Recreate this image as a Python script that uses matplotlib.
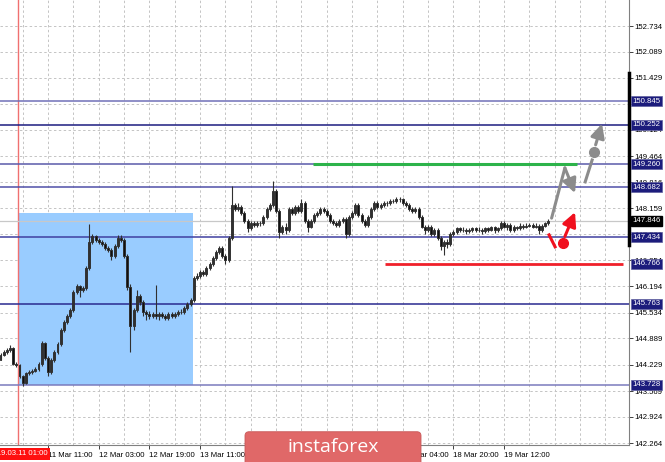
import matplotlib
matplotlib.use('Agg')
import matplotlib.pyplot as plt
from matplotlib.patches import FancyBboxPatch, Rectangle
import matplotlib.transforms as mtransforms

plt.rcParams['font.family'] = ['Liberation Sans', 'DejaVu Sans']

# hourly candles, bar index = position on the chart
first_open = 144.36
closes = [
    144.48, 144.55, 144.60, 144.66, 144.26, 144.22, 143.95, 143.78, 144.02, 144.05,
    144.08, 144.12, 144.25, 144.78, 144.40, 144.05, 144.35, 144.55, 144.75, 145.10,
    145.30, 145.45, 145.60, 146.05, 146.20, 146.10, 146.15, 146.65, 147.30, 147.45,
    147.35, 147.30, 147.25, 147.15, 147.10, 146.95, 147.20, 147.40, 147.35, 146.95,
    146.18, 145.20, 145.60, 145.95, 145.80, 145.55, 145.50, 145.45, 145.50, 145.45,
    145.50, 145.45, 145.40, 145.50, 145.45, 145.50, 145.55, 145.55, 145.65, 145.75,
    145.85, 146.40, 146.45, 146.55, 146.50, 146.65, 146.75, 146.90, 147.05, 147.15,
    146.95, 146.85, 147.40, 148.25, 148.15, 148.20, 148.05, 147.85, 147.65, 147.80,
    147.75, 147.80, 147.78, 147.95, 148.15, 148.25, 148.60, 148.10, 147.55, 147.70,
    147.60, 148.15, 148.05, 148.20, 148.10, 148.30, 147.85, 147.70, 147.85, 148.00,
    148.05, 148.15, 148.10, 148.00, 147.85, 147.80, 147.75, 147.85, 147.90, 147.50,
    147.95, 148.05, 148.25, 148.00, 147.85, 147.75, 147.95, 148.15, 148.30, 148.20,
    148.25, 148.30, 148.28, 148.35, 148.33, 148.40, 148.38, 148.30, 148.25, 148.15,
    148.10, 148.15, 147.95, 147.70, 147.60, 147.70, 147.50, 147.60, 147.40, 147.20,
    147.30, 147.25, 147.50, 147.55, 147.65, 147.60, 147.62, 147.58, 147.60, 147.65,
    147.60, 147.62, 147.58, 147.65, 147.62, 147.68, 147.60, 147.65, 147.80, 147.70,
    147.75, 147.60, 147.68, 147.65, 147.72, 147.70, 147.72, 147.75, 147.70, 147.72,
    147.60, 147.72, 147.78, 147.85,
]
highs = [
    144.52, 144.60, 144.66, 144.72, 144.68, 144.30, 144.25, 143.98, 144.05, 144.10,
    144.12, 144.16, 144.30, 144.82, 144.80, 144.45, 144.40, 144.60, 144.80, 145.15,
    145.35, 145.50, 145.66, 146.10, 146.25, 146.24, 146.20, 146.70, 147.76, 147.50,
    147.48, 147.40, 147.35, 147.30, 147.20, 147.15, 147.25, 147.48, 147.48, 147.40,
    147.00, 146.25, 145.65, 146.10, 146.00, 145.85, 145.60, 145.58, 145.56, 146.23,
    145.55, 145.55, 145.50, 145.55, 145.55, 145.55, 145.60, 145.62, 145.70, 145.80,
    145.90, 146.45, 146.52, 146.60, 146.60, 146.70, 146.80, 146.95, 147.10, 147.20,
    147.20, 147.00, 147.45, 148.72, 148.30, 148.28, 148.25, 148.10, 147.90, 147.85,
    147.85, 147.85, 147.85, 148.00, 148.20, 148.30, 148.84, 148.65, 148.15, 147.75,
    147.78, 148.20, 148.20, 148.25, 148.25, 148.40, 148.35, 147.90, 147.90, 148.05,
    148.10, 148.20, 148.20, 148.15, 148.05, 147.90, 147.85, 147.90, 147.95, 147.95,
    148.00, 148.10, 148.30, 148.30, 148.05, 147.90, 148.00, 148.20, 148.35, 148.35,
    148.30, 148.35, 148.35, 148.40, 148.40, 148.45, 148.45, 148.42, 148.35, 148.30,
    148.20, 148.20, 148.20, 148.00, 147.75, 147.75, 147.75, 147.65, 147.65, 147.45,
    147.35, 147.38, 147.55, 147.62, 147.70, 147.70, 147.68, 147.66, 147.65, 147.70,
    147.70, 147.68, 147.66, 147.70, 147.70, 147.72, 147.72, 147.70, 147.85, 147.85,
    147.80, 147.80, 147.74, 147.72, 147.78, 147.76, 147.78, 147.80, 147.80, 147.78,
    147.76, 147.76, 147.82, 147.90,
]
lows = [
    144.36, 144.44, 144.50, 144.56, 144.22, 144.18, 143.90, 143.70, 143.75, 143.98,
    144.00, 144.04, 144.08, 144.20, 144.35, 143.95, 144.00, 144.30, 144.50, 144.70,
    145.05, 145.25, 145.40, 145.55, 146.00, 145.93, 146.05, 146.10, 146.60, 147.25,
    147.30, 147.25, 147.20, 147.10, 147.05, 146.86, 146.90, 147.15, 147.30, 146.90,
    146.10, 144.55, 145.10, 145.55, 145.72, 145.45, 145.35, 145.38, 145.40, 145.38,
    145.35, 145.40, 145.35, 145.36, 145.40, 145.40, 145.45, 145.50, 145.50, 145.60,
    145.70, 145.80, 146.35, 146.40, 146.45, 146.45, 146.60, 146.70, 146.85, 147.00,
    146.90, 146.75, 146.80, 147.35, 148.08, 148.10, 148.00, 147.80, 147.55, 147.60,
    147.70, 147.70, 147.72, 147.74, 147.90, 148.10, 148.20, 148.05, 147.42, 147.50,
    147.52, 147.55, 148.00, 148.00, 148.05, 148.05, 147.80, 147.55, 147.65, 147.80,
    147.95, 148.00, 148.05, 147.95, 147.80, 147.75, 147.70, 147.70, 147.80, 147.42,
    147.45, 147.90, 148.00, 147.95, 147.80, 147.68, 147.70, 147.90, 148.10, 148.15,
    148.15, 148.20, 148.22, 148.25, 148.28, 148.30, 148.32, 148.25, 148.20, 148.10,
    148.05, 148.05, 147.90, 147.65, 147.52, 147.55, 147.45, 147.45, 147.35, 147.10,
    146.98, 147.15, 147.20, 147.45, 147.50, 147.55, 147.55, 147.52, 147.54, 147.55,
    147.55, 147.55, 147.52, 147.54, 147.56, 147.58, 147.54, 147.55, 147.60, 147.65,
    147.62, 147.55, 147.55, 147.60, 147.60, 147.64, 147.65, 147.68, 147.65, 147.66,
    147.52, 147.56, 147.68, 147.74,
]
opens = [first_open] + closes[:-1]

# price scale on the right
yticks = [152.734, 152.089, 151.429, 150.784, 150.124, 149.464, 148.816, 148.159,
          147.506, 146.854, 146.194, 145.534, 144.889, 144.229, 143.569, 142.924, 142.264]
# drawn support / resistance levels (full width)
levels = [150.845, 150.252, 149.260, 148.682, 147.434, 145.763, 143.728]
level_colors = ['#7070b8', '#1c1c80', '#5a5aaa', '#5050a8', '#4040a0', '#2a2a90', '#7a7abd']
last_price = 147.846

# time axis
xtick_bars = [15, 31, 47, 63, 79, 95, 111, 127, 143, 159]
xtick_labels = ['11 Mar 11:00', '12 Mar 03:00', '12 Mar 19:00', '13 Mar 11:00', '14 Mar 03:00',
                '14 Mar 19:00', '15 Mar 11:00', '18 Mar 04:00', '18 Mar 20:00', '19 Mar 12:00']
vline_bar = 5.5
vline_label = '2019.03.11 01:00'

# box of the range and the two target lines
box_bars = (5.8, 60.8)
box_prices = (143.728, 148.04)
green_bars = (98.7, 182.0)
green_price = 149.260
red_bars = (121.4, 196.6)
red_price = 146.766

# forecast sketches (bar, price)
grey_path = [(174.0, 147.91), (178.2, 149.17), (181.4, 148.54)]
grey_dash = [(184.6, 148.82), (186.8, 149.37)]
grey_dot = (187.4, 149.57)
grey_up = [(187.9, 149.75), (189.9, 150.28)]
red_dash = [(173.2, 147.49), (175.1, 147.19)]
red_dot = (177.6, 147.29)
red_up = [(178.2, 147.45), (181.4, 148.06)]

FS = 5.6

fig = plt.figure(figsize=(6.65, 4.62), dpi=100)
ax = fig.add_axes([0, 17 / 462, 629 / 665, 445 / 462])
ax.set_xlim(-0.16, 198.44)
ax.set_ylim(142.214, 153.387)

# grid
for t in yticks:
    ax.axhline(t, color='#c4c4c4', lw=0.7, ls=(0, (2.5, 2.5)), zorder=0)
for b in range(7, 199, 8):
    ax.axvline(b, color='#c4c4c4', lw=0.7, ls=(0, (2.5, 2.5)), zorder=0)

ax.add_patch(Rectangle((box_bars[0], box_prices[0]), box_bars[1] - box_bars[0],
                       box_prices[1] - box_prices[0], facecolor='#99ccff', edgecolor='none', zorder=1))

ax.axvline(vline_bar, color='#f07070', lw=1.0, zorder=2)
ax.axhline(last_price, color='#c8c8c8', lw=0.9, zorder=2)

for lv, c in zip(levels, level_colors):
    ax.axhline(lv, color=c, lw=1.1, zorder=3)

ax.hlines(green_price, green_bars[0], green_bars[1], color='#2db34a', lw=2.2, zorder=4)
ax.hlines(red_price, red_bars[0], red_bars[1], color='#f0202a', lw=2.0, zorder=4)

# candles
for i in range(len(closes)):
    o, c, h, l = opens[i], closes[i], highs[i], lows[i]
    ax.vlines(i, l, h, color='#303030', lw=0.8, zorder=5)
    bottom = min(o, c)
    height = max(abs(c - o), 0.012)
    face = 'none' if c >= o else '#101010'
    ax.bar(i, height, bottom=bottom, width=0.62, facecolor=face, edgecolor='#303030',
           lw=0.7, zorder=6)

# forecast arrows
arrow_style = '-|>,head_length=0.7,head_width=0.35'
gx, gy = zip(*grey_path[:2])
ax.plot(gx, gy, color='#8c8c8c', lw=2.2, solid_capstyle='round', zorder=7)
ax.annotate('', xy=grey_path[2], xytext=grey_path[1],
            arrowprops=dict(arrowstyle=arrow_style, color='#8c8c8c',
                            lw=2.2, shrinkA=0, shrinkB=0, mutation_scale=12), zorder=7)
dx, dy = zip(*grey_dash)
ax.plot(dx, dy, color='#8c8c8c', lw=2.2, zorder=7)
ax.plot(*grey_dot, 'o', color='#8c8c8c', ms=7, zorder=7)
ax.annotate('', xy=grey_up[1], xytext=grey_up[0],
            arrowprops=dict(arrowstyle=arrow_style, color='#8c8c8c',
                            lw=2.2, shrinkA=0, shrinkB=0, mutation_scale=12), zorder=7)
rx, ry = zip(*red_dash)
ax.plot(rx, ry, color='#f0101e', lw=2.2, zorder=7)
ax.plot(*red_dot, 'o', color='#f0101e', ms=7, zorder=7)
ax.annotate('', xy=red_up[1], xytext=red_up[0],
            arrowprops=dict(arrowstyle=arrow_style, color='#f0101e',
                            lw=2.2, shrinkA=0, shrinkB=0, mutation_scale=12), zorder=7)

# axes styling
for s in ['left', 'top']:
    ax.spines[s].set_visible(False)
ax.spines['right'].set_color('#808080')
ax.spines['bottom'].set_color('#808080')
ax.yaxis.tick_right()
ax.set_yticks(yticks)
ax.set_yticklabels(['%.3f' % t for t in yticks])
ax.tick_params(axis='y', length=3, width=0.7, color='#404040', labelsize=FS, pad=1)
ax.set_xticks(xtick_bars)
ax.set_xticklabels(xtick_labels)
ax.tick_params(axis='x', length=3, width=0.7, color='#404040', labelsize=FS, pad=2)
for lab in ax.get_xticklabels():
    lab.set_ha('left')

ytr = mtransforms.blended_transform_factory(ax.transAxes, ax.transData)

# thick bar on the price scale
ax.plot([1.0, 1.0], [151.55, 147.24], transform=ytr, color='black', lw=2.5, clip_on=False, zorder=8)

# level labels on the scale
for lv in levels + [red_price]:
    ax.text(1.005, lv, '%.3f' % lv, transform=ytr, fontsize=FS, color='white', va='center', ha='left',
            bbox=dict(boxstyle='square,pad=0.2', facecolor='#1c1c7c', edgecolor='#6060a0', lw=0.5),
            clip_on=False, zorder=9)
ax.text(1.005, last_price, '%.3f' % last_price, transform=ytr, fontsize=FS, color='white', va='center',
        ha='left', bbox=dict(boxstyle='square,pad=0.2', facecolor='black', edgecolor='black'),
        clip_on=False, zorder=9)

# label of the vertical line
xtr = mtransforms.blended_transform_factory(ax.transData, ax.transAxes)
ax.text(vline_bar, -0.012, vline_label, transform=xtr, fontsize=FS, color='white', va='top', ha='center',
        bbox=dict(boxstyle='square,pad=0.35', facecolor='#ff1010', edgecolor='none'),
        clip_on=False, zorder=9)

# watermark
logo = FancyBboxPatch((245 / 665, -0.02), 176 / 665, 39.5 / 462, boxstyle='round,pad=0,rounding_size=0.006',
                      mutation_aspect=665 / 462, transform=fig.transFigure, facecolor='#e06868',
                      edgecolor='#c85858', lw=0.6, zorder=10)
fig.add_artist(logo)
fig.text(333 / 665, 15 / 462, 'instaforex', ha='center', va='center', color='white', fontsize=14,
         family=['Open Sans', 'DejaVu Sans'], zorder=11)

fig.savefig('out.png', dpi=100, facecolor='white')
